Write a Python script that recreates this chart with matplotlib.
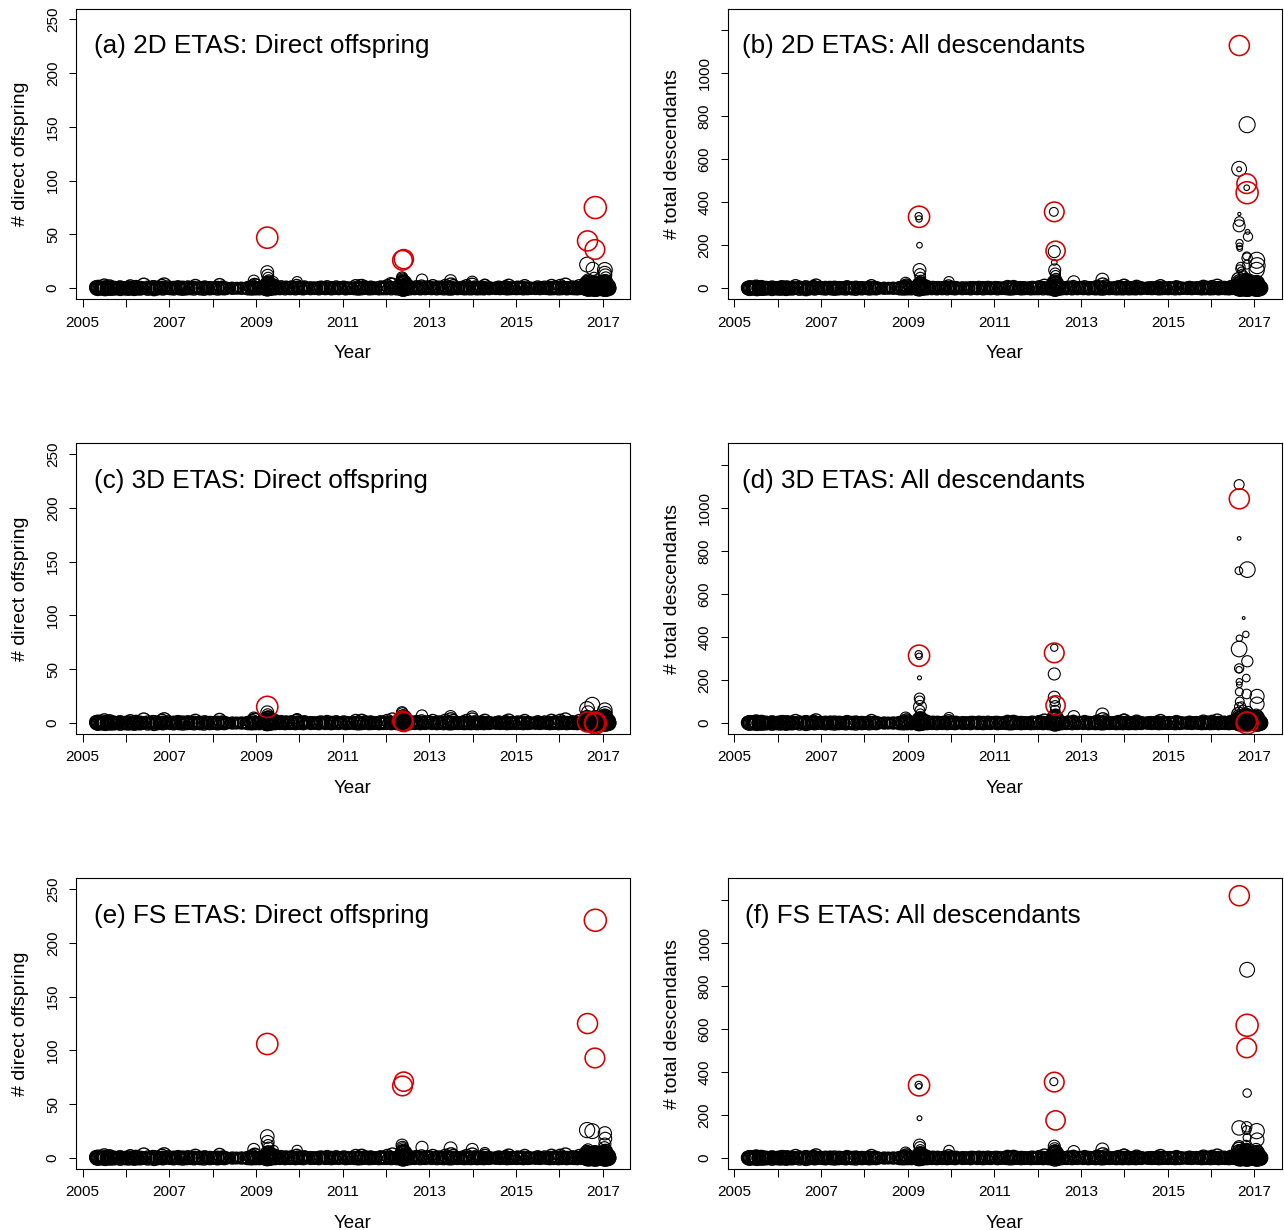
import numpy as np
import matplotlib.pyplot as plt

plt.rcParams['font.family'] = ['Liberation Sans', 'DejaVu Sans']

# background catalogue: event time, magnitude, and counts shared by the models
bg_year = [
    2005.31, 2005.33, 2005.36, 2005.40, 2005.45, 2005.50, 2005.53, 2005.58, 2005.62, 2005.66, 2005.71, 2005.78, 2005.85, 2005.92, 2005.97,
    2006.04, 2006.10, 2006.17, 2006.23, 2006.30, 2006.36, 2006.41, 2006.47, 2006.55, 2006.62, 2006.70, 2006.77, 2006.83, 2006.88, 2006.93, 2006.98,
    2007.05, 2007.12, 2007.20, 2007.28, 2007.35, 2007.43, 2007.52, 2007.60, 2007.66, 2007.74, 2007.83, 2007.91,
    2008.00, 2008.08, 2008.16, 2008.22, 2008.30, 2008.40, 2008.52, 2008.62, 2008.75, 2008.85, 2008.92, 2008.97,
    2009.05, 2009.12, 2009.20, 2009.24, 2009.26, 2009.27, 2009.28, 2009.29, 2009.30, 2009.31, 2009.33, 2009.35, 2009.38, 2009.42, 2009.47, 2009.52, 2009.58, 2009.64, 2009.70, 2009.76, 2009.82, 2009.88, 2009.94, 2009.98,
    2010.05, 2010.12, 2010.22, 2010.33, 2010.42, 2010.50, 2010.57, 2010.64, 2010.71, 2010.78, 2010.85, 2010.93,
    2011.02, 2011.10, 2011.20, 2011.30, 2011.37, 2011.44, 2011.52, 2011.58, 2011.65, 2011.72, 2011.80, 2011.88, 2011.95,
    2012.03, 2012.09, 2012.15, 2012.22, 2012.30, 2012.36, 2012.38, 2012.39, 2012.40, 2012.41, 2012.42, 2012.43, 2012.44, 2012.46, 2012.48, 2012.52, 2012.57, 2012.63, 2012.70, 2012.76, 2012.82, 2012.88, 2012.95,
    2013.02, 2013.08, 2013.14, 2013.22, 2013.30, 2013.37, 2013.44, 2013.50, 2013.55, 2013.62, 2013.70, 2013.78, 2013.86, 2013.93, 2013.99,
    2014.05, 2014.12, 2014.20, 2014.28, 2014.33, 2014.40, 2014.50, 2014.60, 2014.68, 2014.76, 2014.83, 2014.90, 2014.97,
    2015.04, 2015.12, 2015.20, 2015.30, 2015.40, 2015.50, 2015.58, 2015.66, 2015.74, 2015.82, 2015.90, 2015.96,
    2016.02, 2016.08, 2016.14, 2016.22, 2016.30, 2016.38, 2016.46, 2016.54, 2016.60, 2016.64, 2016.65, 2016.66, 2016.67, 2016.68, 2016.70, 2016.72, 2016.74, 2016.76, 2016.78, 2016.80, 2016.81, 2016.82, 2016.83, 2016.84, 2016.85, 2016.86, 2016.88, 2016.90, 2016.92, 2016.94, 2016.96, 2016.98,
    2017.00, 2017.02, 2017.04, 2017.05, 2017.06, 2017.07, 2017.08, 2017.10, 2017.12, 2017.14, 2017.15,
]
bg_mag = [
    4.2, 3.8, 4.4, 3.6, 4.0, 4.5, 3.7, 4.3, 4.6, 3.9, 4.1, 3.5, 4.0, 3.8, 4.2,
    3.7, 4.1, 3.9, 4.3, 3.6, 4.0, 4.4, 3.8, 3.5, 4.2, 3.9, 4.0, 4.3, 4.5, 3.7, 4.1,
    4.0, 3.6, 4.2, 3.8, 3.5, 4.1, 3.7, 4.3, 3.9, 3.6, 4.0, 3.8,
    3.9, 3.6, 4.2, 4.0, 3.7, 3.5, 3.8, 3.4, 3.6, 3.9, 4.1, 4.3,
    3.8, 4.0, 3.6, 4.2, 4.5, 4.3, 4.4, 4.1, 4.6, 4.2, 4.0, 4.3, 3.9, 4.4, 4.1, 3.8, 4.2, 3.9, 4.0, 3.7, 4.1, 3.8, 4.3, 4.0,
    3.8, 4.1, 3.6, 3.9, 3.5, 4.0, 3.7, 4.2, 3.9, 3.6, 4.1, 3.8,
    4.0, 3.7, 3.9, 4.2, 3.8, 4.3, 4.1, 3.6, 4.0, 3.8, 3.5, 4.1, 3.9,
    4.2, 3.9, 4.4, 3.7, 4.0, 4.3, 4.6, 4.5, 4.4, 4.6, 4.3, 4.5, 4.2, 4.0, 4.4, 3.9, 4.1, 3.7, 4.2, 3.8, 4.0, 3.6, 4.1,
    3.9, 4.2, 3.7, 4.0, 3.8, 4.3, 4.1, 4.5, 4.2, 3.9, 3.6, 4.0, 4.2, 3.8, 4.4,
    4.1, 3.8, 4.0, 4.3, 3.7, 3.9, 3.6, 4.0, 3.8, 4.2, 4.4, 3.9, 3.7,
    4.0, 3.7, 4.2, 3.9, 3.6, 4.1, 3.8, 4.0, 3.7, 4.3, 4.1, 3.9,
    4.3, 4.0, 4.4, 3.8, 4.1, 3.7, 4.2, 3.9, 4.4, 4.6, 4.5, 4.3, 4.6, 4.2, 4.4, 4.1, 4.5, 4.3, 4.0, 4.6, 4.4, 4.5, 4.7, 4.3, 4.5, 4.2, 4.4, 4.1, 4.3, 4.0, 4.2, 4.4,
    4.3, 4.5, 4.6, 4.4, 4.6, 4.3, 4.5, 4.2, 4.0, 4.3, 4.1,
]
bg_direct = [
    1, 0, 1, 0, 0, 2, 0, 0, 1, 0, 0, 0, 1, 0, 0,
    0, 2, 0, 1, 0, 0, 3, 0, 0, 1, 0, 0, 2, 3, 0, 1,
    0, 0, 1, 0, 0, 1, 0, 2, 0, 0, 1, 0,
    0, 0, 3, 1, 0, 0, 0, 0, 0, 1, 2, 3,
    0, 1, 0, 2, 4, 3, 5, 2, 4, 3, 2, 3, 1, 2, 1, 0, 1, 0, 1, 0, 1, 0, 2, 1,
    0, 1, 0, 0, 0, 1, 0, 1, 0, 0, 1, 0,
    1, 0, 0, 2, 0, 2, 1, 0, 1, 0, 0, 1, 0,
    2, 1, 3, 0, 1, 2, 5, 4, 6, 4, 3, 5, 3, 2, 2, 1, 1, 0, 1, 0, 2, 0, 1,
    1, 2, 0, 1, 0, 2, 1, 3, 2, 0, 0, 1, 2, 0, 3,
    1, 0, 1, 2, 0, 0, 0, 1, 0, 1, 2, 0, 0,
    1, 0, 2, 0, 0, 1, 0, 1, 0, 2, 1, 0,
    2, 1, 3, 0, 1, 0, 2, 1, 3, 5, 4, 3, 4, 2, 3, 2, 3, 2, 1, 4, 3, 5, 4, 3, 4, 2, 3, 1, 2, 1, 2, 3,
    3, 4, 5, 4, 6, 3, 4, 2, 1, 2, 1,
]
bg_desc = [
    2, 0, 3, 0, 0, 5, 0, 0, 2, 0, 0, 0, 3, 0, 0,
    0, 6, 0, 2, 0, 0, 8, 0, 0, 2, 0, 0, 5, 10, 0, 2,
    0, 0, 2, 0, 0, 2, 0, 4, 0, 0, 2, 0,
    0, 0, 10, 2, 0, 0, 0, 0, 0, 2, 8, 12,
    0, 2, 0, 6, 15, 12, 20, 8, 18, 10, 6, 9, 3, 6, 3, 0, 2, 0, 3, 0, 2, 0, 8, 3,
    0, 2, 0, 0, 0, 3, 0, 2, 0, 0, 3, 0,
    3, 0, 0, 6, 0, 5, 2, 0, 2, 0, 0, 3, 0,
    5, 3, 10, 0, 3, 8, 25, 20, 30, 18, 12, 22, 10, 6, 8, 3, 2, 0, 3, 0, 8, 0, 2,
    2, 5, 0, 2, 0, 6, 3, 15, 8, 0, 0, 2, 5, 0, 10,
    3, 0, 2, 6, 0, 0, 0, 2, 0, 3, 8, 0, 0,
    2, 0, 5, 0, 0, 3, 0, 2, 0, 6, 3, 0,
    5, 2, 10, 0, 3, 0, 6, 2, 10, 40, 30, 25, 20, 15, 18, 12, 15, 10, 8, 30, 25, 35, 28, 20, 22, 12, 15, 6, 10, 5, 8, 12,
    10, 15, 20, 12, 25, 10, 15, 6, 3, 5, 2,
]

# events without offspring in any model: (year, magnitude)
quiet = [
    (2005.32, 4.3), (2005.34, 3.8), (2005.35, 4.6), (2005.38, 4.0), (2005.42, 3.5), (2005.43, 4.4),
    (2005.47, 4.1), (2005.48, 3.7), (2005.52, 4.7), (2005.55, 3.9), (2005.56, 4.2), (2005.60, 3.6),
    (2005.64, 4.5), (2005.65, 4.0), (2005.68, 4.3), (2005.69, 3.7), (2005.73, 4.4), (2005.75, 3.9),
    (2005.80, 4.2), (2005.82, 3.6), (2005.87, 4.6), (2005.90, 4.0), (2005.94, 3.8), (2005.99, 4.3),
    (2006.01, 3.9), (2006.06, 4.5), (2006.08, 3.7), (2006.13, 4.2), (2006.15, 4.0), (2006.19, 4.6),
    (2006.21, 3.8), (2006.26, 4.3), (2006.28, 3.6), (2006.33, 4.4), (2006.38, 4.1), (2006.44, 3.9),
    (2006.50, 4.5), (2006.52, 3.7), (2006.58, 4.2), (2006.60, 4.0), (2006.65, 4.7), (2006.67, 3.8),
    (2006.73, 4.3), (2006.80, 3.9), (2006.85, 4.4), (2006.90, 4.1), (2006.95, 3.7),
    (2007.02, 4.2), (2007.08, 3.8), (2007.10, 4.4), (2007.15, 4.0), (2007.17, 3.6), (2007.23, 4.3),
    (2007.25, 3.9), (2007.31, 4.5), (2007.33, 3.7), (2007.38, 4.1), (2007.40, 4.3), (2007.46, 3.8),
    (2007.49, 4.2), (2007.55, 3.6), (2007.57, 4.4), (2007.63, 4.0), (2007.69, 3.7), (2007.71, 4.3),
    (2007.77, 3.9), (2007.80, 4.5), (2007.86, 3.8), (2007.88, 4.1), (2007.94, 4.3), (2007.97, 3.7),
    (2008.03, 4.1), (2008.05, 3.8), (2008.11, 4.4), (2008.13, 3.9), (2008.19, 4.2), (2008.25, 3.7),
    (2008.27, 4.3), (2008.33, 3.9), (2008.36, 3.6), (2008.45, 4.0), (2008.48, 3.7), (2008.56, 3.9),
    (2008.59, 3.6), (2008.66, 4.0), (2008.70, 3.8), (2008.79, 4.1), (2008.82, 4.3), (2008.88, 3.9),
    (2008.90, 4.4), (2008.94, 4.1), (2008.99, 4.3),
    (2009.02, 4.0), (2009.08, 4.3), (2009.15, 3.9), (2009.18, 4.2), (2009.22, 4.5), (2009.25, 4.7),
    (2009.255, 4.3), (2009.265, 4.8), (2009.275, 4.4), (2009.285, 4.6), (2009.295, 4.2), (2009.32, 4.5),
    (2009.34, 4.1), (2009.36, 4.4), (2009.40, 4.0), (2009.44, 4.3), (2009.50, 3.9), (2009.55, 4.2),
    (2009.61, 3.8), (2009.67, 4.3), (2009.73, 4.0), (2009.79, 4.2), (2009.85, 3.8), (2009.91, 4.3),
    (2009.96, 4.0),
    (2010.02, 4.1), (2010.06, 3.8), (2010.09, 4.3), (2010.15, 3.9), (2010.18, 3.6), (2010.26, 4.2),
    (2010.30, 3.8), (2010.35, 4.1), (2010.37, 3.7), (2010.45, 4.3), (2010.48, 3.9), (2010.53, 3.6),
    (2010.60, 4.2), (2010.62, 3.8), (2010.67, 4.0), (2010.74, 4.3), (2010.76, 3.7), (2010.81, 4.1),
    (2010.88, 3.9), (2010.91, 4.2), (2010.96, 3.8),
    (2011.04, 4.0), (2011.07, 4.3), (2011.13, 3.8), (2011.16, 4.1), (2011.23, 3.7), (2011.27, 4.2),
    (2011.33, 3.9), (2011.35, 4.4), (2011.40, 4.0), (2011.42, 4.3), (2011.47, 3.8), (2011.49, 4.1),
    (2011.55, 3.9), (2011.61, 4.3), (2011.63, 3.7), (2011.68, 4.2), (2011.70, 3.9), (2011.76, 4.1),
    (2011.78, 3.7), (2011.84, 4.3), (2011.86, 4.0), (2011.91, 3.8), (2011.93, 4.2), (2011.98, 3.9),
    (2012.01, 4.2), (2012.06, 3.9), (2012.12, 4.3), (2012.18, 3.8), (2012.20, 4.1), (2012.25, 4.3),
    (2012.27, 3.9), (2012.33, 4.2), (2012.37, 4.6), (2012.375, 4.8), (2012.385, 4.5), (2012.395, 4.9),
    (2012.405, 4.6), (2012.415, 4.8), (2012.425, 4.4), (2012.435, 4.7), (2012.45, 4.3), (2012.47, 4.5),
    (2012.50, 4.1), (2012.55, 4.3), (2012.60, 3.9), (2012.66, 4.2), (2012.73, 3.8), (2012.79, 4.3),
    (2012.85, 4.0), (2012.91, 4.2), (2012.97, 3.8),
    (2013.05, 4.2), (2013.11, 3.9), (2013.17, 4.3), (2013.19, 3.8), (2013.25, 4.1), (2013.28, 3.7),
    (2013.33, 4.3), (2013.35, 4.0), (2013.41, 4.2), (2013.47, 4.4), (2013.52, 4.1), (2013.53, 4.3),
    (2013.58, 3.9), (2013.65, 4.2), (2013.67, 3.8), (2013.73, 4.1), (2013.75, 3.7), (2013.81, 4.3),
    (2013.83, 3.9), (2013.89, 4.2), (2013.91, 3.8), (2013.96, 4.3),
    (2014.02, 4.1), (2014.08, 3.8), (2014.10, 4.3), (2014.16, 3.9), (2014.18, 4.2), (2014.24, 3.7),
    (2014.26, 4.3), (2014.31, 4.0), (2014.36, 3.8), (2014.38, 4.2), (2014.43, 3.9), (2014.46, 3.6),
    (2014.53, 4.1), (2014.56, 3.8), (2014.63, 4.2), (2014.65, 3.9), (2014.71, 3.7), (2014.73, 4.1),
    (2014.79, 4.3), (2014.81, 3.9), (2014.86, 4.2), (2014.88, 3.8), (2014.93, 4.1), (2014.95, 3.7),
    (2015.01, 4.2), (2015.07, 3.8), (2015.09, 4.1), (2015.15, 3.7), (2015.17, 4.3), (2015.24, 3.9),
    (2015.27, 4.2), (2015.33, 3.8), (2015.35, 4.0), (2015.43, 3.7), (2015.45, 4.1), (2015.53, 3.8),
    (2015.55, 4.2), (2015.62, 3.9), (2015.64, 3.7), (2015.70, 4.1), (2015.72, 3.8), (2015.78, 4.3),
    (2015.80, 3.9), (2015.86, 4.2), (2015.88, 3.8), (2015.93, 4.1), (2015.98, 4.3),
    (2016.05, 4.2), (2016.11, 3.8), (2016.17, 4.3), (2016.19, 3.9), (2016.25, 4.1), (2016.27, 3.7),
    (2016.33, 4.2), (2016.35, 3.9), (2016.41, 4.3), (2016.43, 3.8), (2016.49, 4.1), (2016.51, 3.9),
    (2016.57, 4.2), (2016.62, 4.5), (2016.645, 4.8), (2016.655, 4.6), (2016.665, 4.9), (2016.675, 4.5),
    (2016.685, 4.7), (2016.695, 4.4), (2016.705, 4.8), (2016.715, 4.6), (2016.73, 4.4), (2016.75, 4.7),
    (2016.77, 4.5), (2016.79, 4.8), (2016.805, 4.6), (2016.815, 4.9), (2016.825, 4.7), (2016.835, 5.0),
    (2016.845, 4.6), (2016.855, 4.8), (2016.87, 4.5), (2016.89, 4.7), (2016.91, 4.4), (2016.93, 4.6),
    (2016.95, 4.3), (2016.97, 4.5), (2016.99, 4.7),
    (2017.01, 4.6), (2017.03, 4.8), (2017.035, 4.5), (2017.045, 4.9), (2017.055, 4.7), (2017.065, 5.0),
    (2017.075, 4.6), (2017.09, 4.8), (2017.11, 4.5), (2017.13, 4.7), (2017.145, 4.4),
]

# largest shocks (L'Aquila, Emilia x2, Amatrice, Visso, Norcia)
red_year = [2009.26, 2012.38, 2012.41, 2016.65, 2016.82, 2016.83]
red_mag = [6.3, 5.9, 5.8, 6.0, 5.9, 6.5]
red_a = [47, 26, 27, 44, 36, 75]
red_b = [332, 355, 174, 1128, 486, 444]
red_c = [15, 2, 1, 1, 0, 0]
red_d = [313, 326, 82, 1042, 5, 0]
red_e = [106, 67, 71, 125, 93, 221]
red_f = [338, 353, 175, 1219, 512, 617]

# sequence events standing out of the band: (year, magnitude, count)
out_a = [(2008.95, 3.8, 7), (2009.00, 3.4, 4), (2009.26, 4.2, 15), (2009.27, 4.0, 12),
         (2009.28, 3.6, 10), (2009.29, 3.4, 8), (2009.31, 3.2, 6), (2009.40, 3.6, 6),
         (2009.95, 3.6, 6), (2011.40, 3.2, 4), (2012.10, 3.6, 5), (2012.37, 3.8, 10),
         (2012.38, 3.8, 9), (2012.39, 3.8, 8), (2012.40, 3.6, 7), (2012.41, 3.8, 6),
         (2012.83, 3.8, 8), (2013.49, 4.0, 7), (2013.99, 3.8, 6), (2014.28, 3.4, 4),
         (2016.64, 4.7, 22), (2016.66, 3.8, 8), (2016.68, 3.4, 6), (2016.77, 4.3, 18),
         (2016.80, 3.6, 10), (2017.05, 4.7, 17), (2017.05, 4.4, 14), (2017.06, 4.2, 12),
         (2017.07, 3.8, 10), (2017.05, 3.4, 8), (2016.88, 3.6, 6)]
out_b = [(2008.95, 3.8, 25), (2009.00, 3.4, 15), (2009.25, 2.8, 335), (2009.26, 2.6, 322),
         (2009.27, 2.4, 200), (2009.27, 4.2, 85), (2009.28, 3.8, 65), (2009.29, 3.6, 50),
         (2009.30, 3.2, 40), (2009.95, 3.6, 30), (2012.37, 3.2, 355), (2012.38, 4.0, 170),
         (2012.38, 2.4, 120), (2012.39, 4.0, 85), (2012.40, 3.6, 70), (2012.41, 3.4, 60),
         (2012.42, 3.6, 45), (2012.83, 4.0, 30), (2013.49, 4.2, 40), (2013.99, 3.8, 15),
         (2016.645, 4.7, 555), (2016.645, 2.2, 553), (2016.83, 5.0, 760), (2016.82, 2.4, 467),
         (2016.65, 1.8, 345), (2016.65, 3.4, 310), (2016.645, 4.0, 290), (2016.655, 2.8, 210),
         (2016.655, 2.6, 195), (2016.66, 2.4, 185), (2016.85, 3.3, 240), (2016.84, 2.2, 262),
         (2016.82, 3.0, 150), (2016.83, 3.6, 140), (2016.83, 3.2, 110), (2017.05, 5.0, 130),
         (2017.06, 5.0, 105), (2017.05, 4.8, 85), (2016.68, 3.2, 100), (2016.66, 3.0, 90),
         (2016.70, 3.0, 80), (2016.72, 3.0, 70), (2016.75, 3.2, 60), (2016.78, 3.0, 50),
         (2016.90, 3.6, 40), (2017.04, 4.0, 30)]
out_c = [(2008.95, 3.8, 5), (2009.26, 4.2, 10), (2009.27, 3.8, 8), (2009.28, 3.6, 6),
         (2009.30, 3.4, 4), (2009.95, 3.6, 4), (2012.37, 3.8, 10), (2012.38, 3.8, 9),
         (2012.39, 3.6, 7), (2012.83, 3.8, 7), (2013.49, 4.0, 6), (2013.99, 3.8, 6),
         (2016.64, 4.7, 13), (2016.66, 4.2, 10), (2016.76, 4.7, 17), (2017.05, 4.6, 12),
         (2017.06, 4.4, 9), (2017.04, 4.2, 7), (2016.90, 3.6, 5)]
out_d = [(2008.95, 3.8, 25), (2009.00, 3.4, 15), (2009.25, 2.8, 320), (2009.26, 2.6, 310),
         (2009.27, 2.0, 210), (2009.27, 3.6, 115), (2009.27, 3.2, 105), (2009.28, 4.2, 75),
         (2009.28, 3.4, 60), (2009.29, 3.2, 45), (2009.95, 3.6, 25), (2012.38, 2.8, 350),
         (2012.38, 4.0, 228), (2012.38, 4.0, 120), (2012.39, 3.4, 100), (2012.40, 3.6, 80),
         (2012.40, 3.4, 60), (2012.41, 3.2, 45), (2012.83, 4.0, 30), (2013.49, 4.2, 40),
         (2013.99, 3.8, 15), (2016.645, 3.5, 1108), (2016.645, 1.9, 858), (2016.64, 2.9, 708),
         (2016.835, 4.9, 713), (2016.75, 1.7, 488), (2016.80, 2.6, 412), (2016.65, 2.6, 394),
         (2016.645, 4.9, 344), (2016.835, 3.8, 287), (2016.645, 3.3, 254), (2016.645, 2.6, 248),
         (2016.81, 2.9, 209), (2016.65, 2.6, 192), (2016.65, 2.4, 178), (2016.65, 3.0, 145),
         (2016.82, 3.4, 135), (2017.06, 4.5, 124), (2017.06, 4.5, 88), (2016.66, 3.2, 100),
         (2016.70, 3.0, 80), (2016.74, 3.0, 65), (2016.64, 3.2, 75), (2016.85, 3.4, 55),
         (2017.04, 4.2, 35)]
out_e = [(2008.95, 4.0, 8), (2009.00, 3.4, 4), (2009.26, 4.4, 20), (2009.27, 4.2, 15),
         (2009.28, 3.8, 12), (2009.29, 3.6, 10), (2009.40, 3.6, 7), (2009.95, 3.6, 7),
         (2012.37, 4.0, 12), (2012.38, 4.0, 10), (2012.39, 3.8, 9), (2012.40, 3.6, 8),
         (2012.41, 3.8, 7), (2012.83, 4.0, 10), (2013.49, 4.2, 9), (2013.99, 4.0, 8),
         (2014.28, 3.6, 5), (2016.64, 4.8, 26), (2016.76, 4.7, 25), (2016.66, 3.8, 8),
         (2017.05, 4.3, 23), (2017.06, 4.2, 18), (2017.05, 4.0, 13), (2017.04, 3.8, 10),
         (2016.88, 3.6, 6)]
out_f = [(2008.95, 3.8, 25), (2009.00, 3.4, 15), (2009.25, 2.8, 340), (2009.26, 2.4, 333),
         (2009.27, 2.2, 185), (2009.27, 4.0, 60), (2009.28, 3.8, 50), (2009.29, 3.4, 40),
         (2009.30, 3.2, 30), (2009.95, 3.6, 35), (2012.37, 3.0, 355), (2012.38, 4.0, 55),
         (2012.39, 3.8, 45), (2012.40, 3.4, 35), (2012.41, 3.2, 25), (2012.83, 4.0, 30),
         (2013.49, 4.2, 40), (2013.99, 3.8, 15), (2016.83, 4.7, 875), (2016.83, 3.1, 302),
         (2016.645, 4.6, 140), (2016.82, 3.6, 145), (2016.82, 3.2, 130), (2016.83, 3.0, 95),
         (2017.05, 4.8, 125), (2017.06, 4.4, 85), (2016.645, 3.8, 55), (2016.66, 3.2, 40),
         (2016.70, 3.0, 30), (2016.80, 3.4, 60), (2017.04, 4.0, 40), (2016.90, 3.4, 25)]

titles = ["(a) 2D ETAS: Direct offspring", "(b) 2D ETAS: All descendants",
          "(c) 3D ETAS: Direct offspring", "(d) 3D ETAS: All descendants",
          "(e) FS ETAS: Direct offspring", "(f) FS ETAS: All descendants"]
outliers = [out_a, out_b, out_c, out_d, out_e, out_f]
reds = [red_a, red_b, red_c, red_d, red_e, red_f]

W, H = 1284, 1230
col_left = [75.7, 727.5]
row_top = [8.5, 443.3, 878.3]
box_w, box_h = 554.3, 290.5


def marker_area(mag):
    # circle diameter grows linearly with magnitude (px -> pt, squared)
    d_px = 4.0 * (np.asarray(mag, dtype=float) - 1.0)
    return (d_px * 0.72) ** 2


def circles(ax, x, y, mag, color='black', lw=0.8, z=2):
    ax.scatter(x, y, s=marker_area(mag), facecolors='none',
               edgecolors=color, linewidths=lw, zorder=z)


fig = plt.figure(figsize=(W / 100, H / 100), dpi=100)

q_year = [q[0] for q in quiet]
q_mag = [q[1] for q in quiet]

for i, title in enumerate(titles):
    r, c = divmod(i, 2)
    desc = (c == 1)
    ax = fig.add_axes([col_left[c] / W, 1 - (row_top[r] + box_h) / H, box_w / W, box_h / H])

    circles(ax, q_year, np.zeros(len(q_year)), q_mag, lw=1.0)
    circles(ax, bg_year, bg_desc if desc else bg_direct, bg_mag, lw=1.0)
    circles(ax, [o[0] for o in outliers[i]], [o[2] for o in outliers[i]],
            [o[1] for o in outliers[i]], z=3)
    circles(ax, red_year, reds[i], red_mag, color='#d40000', lw=1.15, z=4)

    ax.set_xlim(2004.84, 2017.63)
    years = np.arange(2005, 2018)
    ax.set_xticks(years)
    ax.set_xticklabels([str(y) if y % 2 == 1 else '' for y in years])

    if desc:
        ax.set_ylim(-50, 1300)
        yt = np.arange(0, 1201, 200)
        ax.set_yticks(yt)
        ax.set_yticklabels([str(v) if v <= 1000 else '' for v in yt],
                           rotation=90, va='center')
        ax.set_ylabel("# total descendants", fontsize=14, labelpad=12)
    else:
        ax.set_ylim(-10, 260)
        yt = np.arange(0, 251, 50)
        ax.set_yticks(yt)
        ax.set_yticklabels([str(v) for v in yt], rotation=90, va='center')
        ax.set_ylabel("# direct offspring", fontsize=14, labelpad=12)

    ax.set_xlabel("Year", fontsize=13.5, labelpad=11)
    ax.tick_params(axis='both', direction='out', length=5.4, width=0.75,
                   labelsize=11, color='black')
    ax.tick_params(axis='x', pad=6.5)
    ax.tick_params(axis='y', pad=6)
    for sp in ax.spines.values():
        sp.set_linewidth(0.8)

    ax.text(0.335, 0.846, title, transform=ax.transAxes, ha='center',
            va='baseline', fontsize=18.8)

fig.savefig("out.png", dpi=100)
